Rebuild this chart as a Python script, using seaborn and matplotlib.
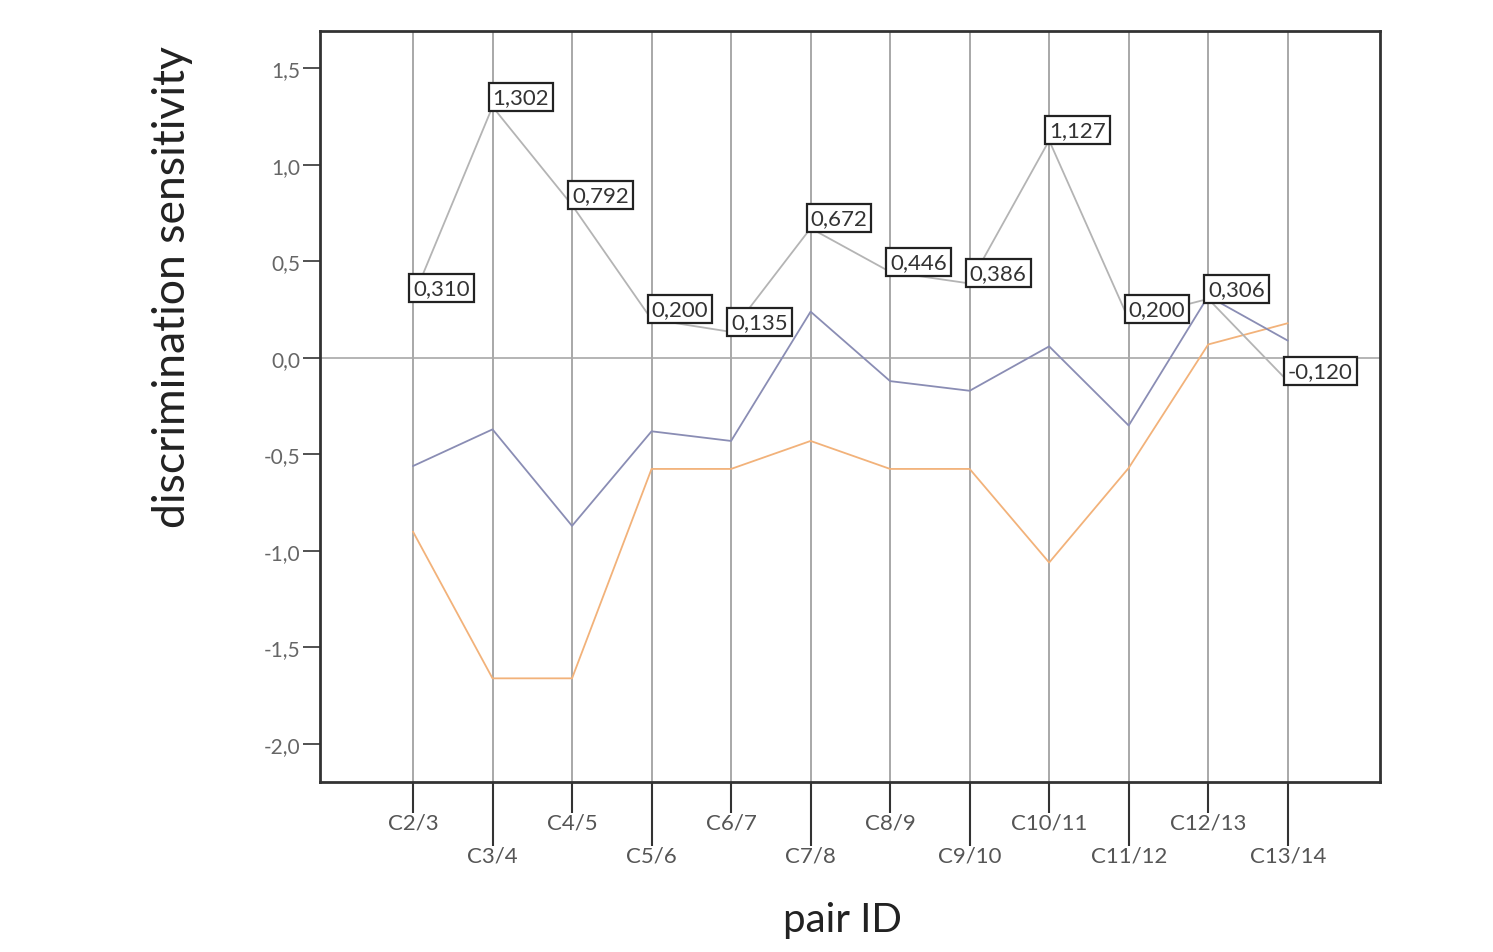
import pandas as pd
import numpy as np
import matplotlib
matplotlib.use('Agg')
import matplotlib.pyplot as plt
import seaborn as sns

# data
pairs = ['C2/3', 'C3/4', 'C4/5', 'C5/6', 'C6/7', 'C7/8', 'C8/9',
         'C9/10', 'C10/11', 'C11/12', 'C12/13', 'C13/14']
labelled = [0.310, 1.302, 0.792, 0.200, 0.135, 0.672, 0.446,
            0.386, 1.127, 0.200, 0.306, -0.120]
blue_vals = [-0.56, -0.37, -0.87, -0.38, -0.43, 0.24, -0.12,
             -0.17, 0.06, -0.35, 0.32, 0.09]
orange_vals = [-0.90, -1.66, -1.66, -0.575, -0.575, -0.43, -0.575,
               -0.575, -1.06, -0.57, 0.07, 0.18]
yticks = [1.5, 1.0, 0.5, 0.0, -0.5, -1.0, -1.5, -2.0]

df = pd.DataFrame({
    'pos': list(range(len(pairs))) * 3,
    'value': labelled + blue_vals + orange_vals,
    'series': ['gray'] * len(pairs) + ['blue'] * len(pairs) + ['orange'] * len(pairs),
})

sns.set_style('white')
plt.rcParams['font.family'] = ['Lato', 'DejaVu Sans']

fig = plt.figure(figsize=(14.93, 9.53), dpi=100)
ax = fig.add_axes([0.2143, 0.1784, 0.7100, 0.7880])

# vertical grid at each pair and zero line
for i in range(len(pairs)):
    ax.axvline(i, color='#a8a8a8', lw=1.4, zorder=1)
ax.axhline(0, color='#a8a8a8', lw=1.2, zorder=1)

palette = {'gray': '#b4b4b4', 'blue': '#8a8db4', 'orange': '#f2b27a'}
sns.lineplot(data=df, x='pos', y='value', hue='series', palette=palette,
             hue_order=['orange', 'blue', 'gray'], lw=1.3, legend=False,
             ax=ax, zorder=2)

# value boxes for the gray series
for i, v in enumerate(labelled):
    ax.text(i, v, f'{v:.3f}'.replace('.', ','), ha='left', va='bottom',
            fontsize=16, color='#333333', zorder=5,
            bbox=dict(boxstyle='square,pad=0.18', fc='white', ec='#222222', lw=1.6))

ax.set_xlim(-1.17, len(pairs) - 1 + 1.16)
ax.set_ylim(-2.197, 1.694)

ax.set_yticks(yticks)
ax.set_yticklabels([f'{t:.1f}'.replace('.', ',') for t in yticks])
ax.tick_params(axis='y', direction='out', length=12, width=1.2, color='#333333',
               labelsize=15, labelcolor='#666666', left=True, pad=2)

even = list(range(0, len(pairs), 2))
odd = list(range(1, len(pairs), 2))
ax.set_xticks(even)
ax.set_xticklabels([pairs[i] for i in even])
ax.set_xticks(odd, minor=True)
ax.set_xticklabels([pairs[i] for i in odd], minor=True)
ax.tick_params(axis='x', which='major', direction='out', length=22, width=1.5,
               color='#333333', labelsize=16, labelcolor='#555555', bottom=True, pad=0)
ax.tick_params(axis='x', which='minor', direction='out', length=46, width=1.5,
               color='#333333', labelsize=16, labelcolor='#555555', bottom=True, pad=0)

for s in ax.spines.values():
    s.set_color('#333333')
    s.set_linewidth(2)

ax.set_xlabel('pair ID', fontsize=29, color='#222222')
ax.xaxis.set_label_coords(0.493, -0.158)
ax.set_ylabel('discrimination sensitivity', fontsize=32, color='#222222')
ax.yaxis.set_label_coords(-0.12, 0.66)

plt.savefig('out.png', dpi=100)
